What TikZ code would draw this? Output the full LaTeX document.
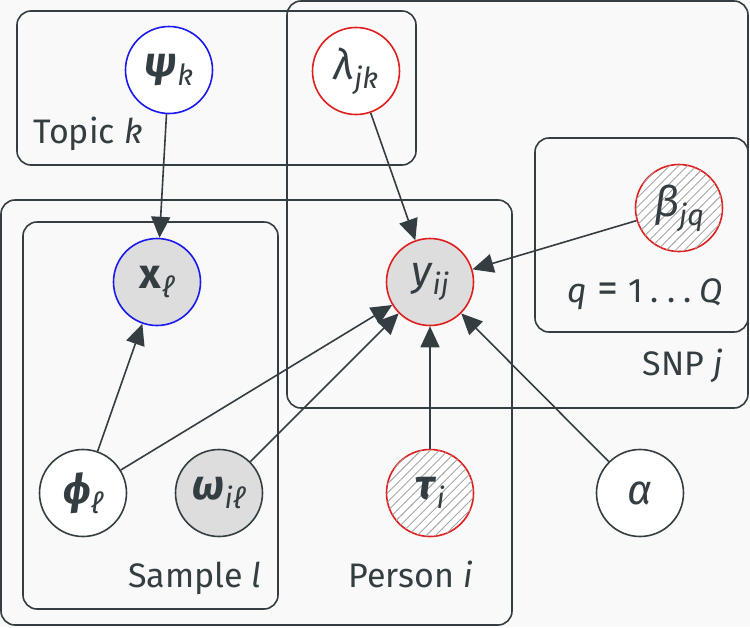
\documentclass[tikz,border=0pt]{standalone}
\usepackage{fontspec}
\setmainfont{Fira Sans}
\usetikzlibrary{arrows.meta,fit,patterns.meta}
\definecolor{ink}{RGB}{52,62,66}
\definecolor{nred}{RGB}{225,30,30}
\definecolor{nblue}{RGB}{25,25,240}
\definecolor{obsfill}{RGB}{221,221,221}
\definecolor{bgc}{RGB}{249,249,249}
\newcommand\sbs[1]{\raisebox{-0.22em}{\fontsize{14.5}{16}\selectfont\itshape #1}}
\tikzset{
  var/.style={circle, draw=ink, line width=0.8pt, minimum size=43.5pt, inner sep=0pt, fill=white, text=ink, font=\fontsize{21}{24}\selectfont},
  obsv/.style={fill=obsfill},
  redv/.style={draw=nred},
  bluev/.style={draw=nblue},
  hatched/.style={fill=white, postaction={pattern={Lines[angle=45,distance=3.2pt,line width=0.45pt]}, pattern color=gray!70}},
  plate/.style={draw=ink, line width=0.8pt, rounded corners=7pt, inner sep=0pt},
  lbl/.style={text=ink, font=\fontsize{17}{20}\selectfont, inner sep=0pt},
  edge/.style={draw=ink, line width=0.8pt, -{Triangle[length=10.5pt,width=9.5pt]}},
}
\begin{document}
\begin{tikzpicture}[x=0.5pt,y=-0.5pt]
\fill[bgc] (0,0) rectangle (750,627);
\useasboundingbox (0,0) rectangle (750,627);
% plates
\node[plate, fit={(17,11) (416,165)}] (topic) {};
\node[plate, fit={(287,1) (748,408)}] (snp) {};
\node[plate, fit={(1,200) (512,625)}] (person) {};
\node[plate, fit={(23,222) (278,609)}] (sample) {};
\node[plate, fit={(535,138) (748,332)}] (qplate) {};
% plate labels
\node[lbl, anchor=base west] (topiclbl) at (33,143) {Topic \textit{k}};
\node[lbl, anchor=base east] (snplbl) at (723,375) {SNP \textit{j}};
\node[lbl, anchor=base east] (qlbl) at (723,302) {\textit{q}\hspace{5pt}{\fontsize{21}{20}\selectfont =}\hspace{5pt}1\hspace{4pt}.\hspace{4pt}.\hspace{4pt}.\hspace{4pt}\textit{Q}};
\node[lbl, anchor=base east] (samplelbl) at (262,587) {Sample \textit{l}};
\node[lbl, anchor=base east] (personlbl) at (473,587) {Person \textit{i}};
% variables
\node[var, bluev] (psi) at (169,70) {\textbf{\textit{ψ}}\sbs{k}};
\node[var, redv] (lambda) at (356,71) {\textit{λ}\sbs{jk}};
\node[var, obsv, bluev] (x) at (157,282) {\textbf{x}\sbs{ℓ}};
\node[var, obsv, redv] (y) at (430,282) {\textit{y}\sbs{ij}};
\node[var, redv, hatched] (beta) at (679,208) {\textit{β}\sbs{jq}};
\node[var] (phi) at (83,493) {\textbf{\textit{ϕ}}\sbs{ℓ}};
\node[var, obsv] (omega) at (219,493) {\textbf{\textit{ω}}\sbs{iℓ}};
\node[var, redv, hatched] (tau) at (430,493) {\textbf{\textit{τ}}\sbs{i}};
\node[var] (alpha) at (640,493) {\textit{α}};
% edges
\draw[edge] (psi) -- (x);
\draw[edge] (lambda) -- (y);
\draw[edge] (beta) -- (y);
\draw[edge] (phi) -- (x);
\draw[edge] (phi) -- (y);
\draw[edge] (omega) -- (y);
\draw[edge] (tau) -- (y);
\draw[edge] (alpha) -- (y);
\end{tikzpicture}
\end{document}
